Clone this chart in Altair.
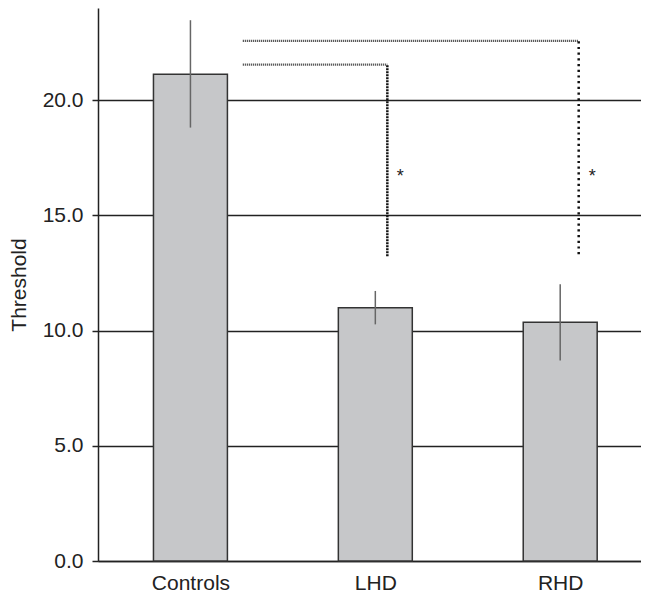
import altair as alt
import pandas as pd

groups = ["Controls", "LHD", "RHD"]
positions = [0, 1, 2]
means = [21.12, 10.99, 10.36]
err_low = [18.81, 10.27, 8.70]
err_high = [23.47, 11.72, 12.01]

# significance brackets (data coordinates)
brk_x_start = [0.283, 0.283]
brk_x_end = [1.065, 2.10]
brk_y_top = [21.54, 22.57]
brk_y_bottom = [13.23, 13.31]
star_x = [1.135, 2.173]
star_y = [16.79, 16.79]

bars = pd.DataFrame({
    "pos": positions,
    "group": groups,
    "lo": [p - 0.2 for p in positions],
    "hi": [p + 0.2 for p in positions],
    "mean": means,
    "elo": err_low,
    "ehi": err_high,
})
brk = pd.DataFrame({
    "x0": brk_x_start, "x1": brk_x_end,
    "yt": brk_y_top, "yb": brk_y_bottom,
})
stars = pd.DataFrame({"x": star_x, "y": star_y, "t": ["*", "*"]})

xscale = alt.Scale(domain=[-0.5, 2.437], nice=False, zero=False)
yscale = alt.Scale(domain=[0, 24], nice=False)

label_expr = "datum.value == 0 ? 'Controls' : datum.value == 1 ? 'LHD' : 'RHD'"

base = alt.Chart(bars)

bar_layer = base.mark_rect(fill="#c6c7c9", stroke="#333333", strokeWidth=1.5).encode(
    x=alt.X("lo:Q", scale=xscale,
            axis=alt.Axis(values=positions, labelExpr=label_expr, ticks=False,
                          grid=False, title=None, labelFontSize=21,
                          labelFont="Liberation Sans", labelColor="#222222",
                          labelPadding=11, domainColor="#222222", domainWidth=1.5)),
    x2="hi:Q",
    y=alt.Y("mean:Q", scale=yscale,
            axis=alt.Axis(values=[0, 5, 10, 15, 20], format=".1f", title="Threshold",
                          titleFontSize=21, titleFont="Liberation Sans",
                          titleFontWeight="normal", titleColor="#222222",
                          titlePadding=13,
                          labelFontSize=21, labelFont="Liberation Sans",
                          labelColor="#222222", labelPadding=9,
                          tickSize=6, tickColor="#222222", tickWidth=1.5,
                          grid=True, gridColor="#222222", gridWidth=1.5,
                          domainColor="#222222", domainWidth=1.5)),
    y2=alt.Y2(datum=0),
)

err_layer = base.mark_rule(color="#666666", strokeWidth=1.5).encode(
    x="pos:Q", y="elo:Q", y2="ehi:Q"
)

bchart = alt.Chart(brk)
h_lines = bchart.mark_rule(color="#555555", strokeWidth=2.2, strokeDash=[1.2, 0.8]).encode(
    x="x0:Q", x2="x1:Q", y="yt:Q"
)
v_left = alt.Chart(brk.iloc[[0]]).mark_rule(color="#111111", strokeWidth=2.5,
                                             strokeDash=[2, 1]).encode(
    x="x1:Q", y="yb:Q", y2="yt:Q"
)
v_right = alt.Chart(brk.iloc[[1]]).mark_rule(color="#111111", strokeWidth=2.5,
                                              strokeDash=[2.2, 3.5]).encode(
    x="x1:Q", y="yb:Q", y2="yt:Q"
)
star_layer = alt.Chart(stars).mark_text(fontSize=18, font="Liberation Sans",
                                        color="#222222", baseline="middle",
                                        dy=3).encode(
    x="x:Q", y="y:Q", text="t:N"
)

chart = alt.layer(bar_layer, err_layer, h_lines, v_left, v_right, star_layer).properties(
    width=543, height=553,
    autosize=alt.AutoSizeParams(type="none"),
    padding={"left": 90, "top": 0, "right": 0, "bottom": 34},
).configure_view(stroke=None)

chart.save("out.html", embed_options={"renderer": "svg", "actions": False})
